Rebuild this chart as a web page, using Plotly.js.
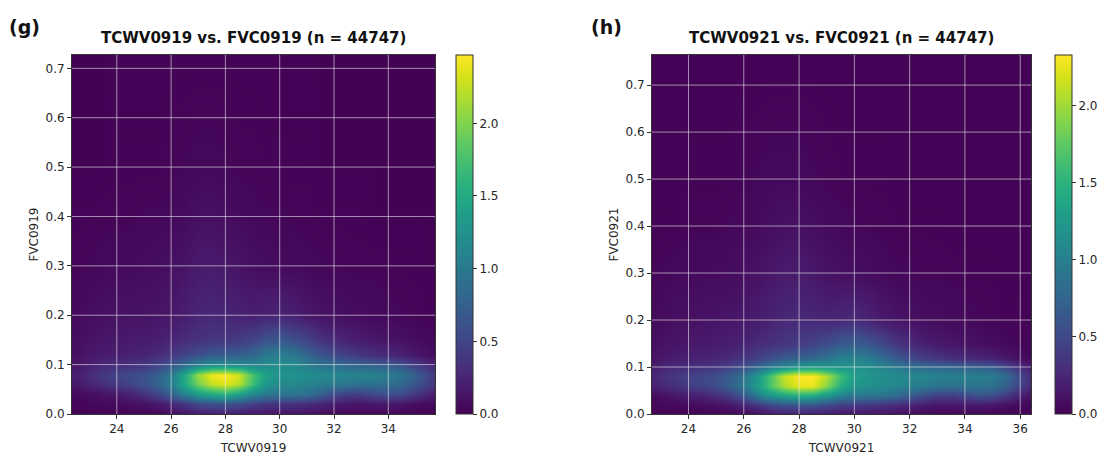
<!DOCTYPE html>
<html>
<head>
<meta charset="utf-8">
<script src="https://cdn.plot.ly/plotly-3.0.1.min.js"></script>
<style>html,body{margin:0;padding:0;background:#fff;}#chart{width:1102px;height:455px;}</style>
</head>
<body>
<div id="chart"></div>
<script>
// Grid of cell centres (TCWV along x, FVC along y)
const xCenters = [22.5,23,23.5,24,24.5,25,25.5,26,26.5,27,27.5,28,28.5,29,29.5,30,30.5,31,31.5,32,32.5,33,33.5,34,34.5,35,35.5,36,36.5];
const yCenters = [0,0.02,0.04,0.06,0.08,0.10,0.12,0.15,0.20,0.30,0.40,0.50,0.75];

// Panel (g): TCWV0919 vs FVC0919 density
const densityG = [
 [0.01,0.01,0.02,0.02,0.03,0.04,0.05,0.08,0.12,0.15,0.18,0.18,0.16,0.14,0.12,0.12,0.12,0.1,0.08,0.06,0.05,0.05,0.05,0.05,0.04,0.03,0.02,0.01,0.01],
 [0.03,0.04,0.05,0.06,0.08,0.1,0.15,0.25,0.38,0.52,0.6,0.62,0.55,0.45,0.38,0.35,0.35,0.3,0.25,0.18,0.14,0.13,0.15,0.15,0.12,0.08,0.05,0.03,0.02],
 [0.05,0.08,0.12,0.16,0.22,0.35,0.5,0.75,1.1,1.35,1.5,1.6,1.4,1.15,1.0,0.95,0.95,0.9,0.75,0.55,0.45,0.45,0.55,0.6,0.55,0.4,0.25,0.12,0.06],
 [0.15,0.25,0.32,0.42,0.5,0.6,0.78,1.05,1.5,1.95,2.25,2.35,2.2,1.7,1.28,1.15,1.15,1.1,1.05,1.0,0.95,0.9,0.9,0.9,0.8,0.65,0.45,0.25,0.12],
 [0.2,0.3,0.4,0.5,0.55,0.62,0.75,1.0,1.5,2.1,2.42,2.47,2.3,1.75,1.38,1.25,1.25,1.2,1.15,1.15,1.1,1.1,1.1,1.05,0.95,0.75,0.5,0.28,0.14],
 [0.15,0.22,0.28,0.32,0.35,0.4,0.5,0.65,0.9,1.1,1.22,1.22,1.18,1.12,1.18,1.22,1.17,1.05,0.95,0.88,0.82,0.78,0.75,0.7,0.6,0.45,0.3,0.18,0.08],
 [0.1,0.15,0.18,0.2,0.22,0.25,0.3,0.38,0.5,0.6,0.7,0.72,0.75,0.82,1.0,1.05,0.98,0.82,0.65,0.55,0.45,0.38,0.32,0.28,0.22,0.16,0.1,0.06,0.03],
 [0.08,0.12,0.14,0.16,0.17,0.18,0.2,0.25,0.3,0.35,0.38,0.38,0.42,0.5,0.62,0.68,0.6,0.48,0.35,0.28,0.22,0.18,0.15,0.12,0.1,0.07,0.05,0.03,0.02],
 [0.06,0.08,0.1,0.11,0.12,0.12,0.13,0.15,0.2,0.25,0.27,0.25,0.22,0.2,0.22,0.24,0.2,0.15,0.12,0.1,0.08,0.07,0.06,0.05,0.04,0.03,0.02,0.02,0.01],
 [0.03,0.04,0.05,0.06,0.06,0.07,0.08,0.1,0.13,0.17,0.18,0.15,0.12,0.09,0.08,0.07,0.06,0.05,0.04,0.04,0.03,0.03,0.03,0.02,0.02,0.02,0.01,0.01,0.01],
 [0.02,0.02,0.03,0.03,0.03,0.04,0.04,0.05,0.07,0.1,0.1,0.08,0.06,0.05,0.04,0.04,0.03,0.03,0.02,0.02,0.02,0.02,0.01,0.01,0.01,0.01,0.01,0.01,0.01],
 [0.01,0.01,0.01,0.02,0.02,0.02,0.02,0.03,0.04,0.05,0.05,0.04,0.03,0.03,0.02,0.02,0.02,0.02,0.01,0.01,0.01,0.01,0.01,0.01,0.01,0.01,0.01,0.01,0.01],
 [0.01,0.01,0.01,0.01,0.01,0.01,0.01,0.01,0.01,0.01,0.01,0.01,0.01,0.01,0.01,0.01,0.01,0.01,0.01,0.01,0.01,0.01,0.01,0.01,0.01,0.01,0.01,0.01,0.01]
];

// Panel (h): TCWV0921 vs FVC0921 density
const densityH = [
 [0.01,0.01,0.02,0.02,0.03,0.04,0.05,0.07,0.1,0.14,0.17,0.18,0.17,0.15,0.13,0.12,0.12,0.11,0.1,0.08,0.06,0.05,0.05,0.05,0.05,0.04,0.03,0.02,0.01],
 [0.03,0.04,0.05,0.06,0.07,0.09,0.13,0.22,0.35,0.5,0.58,0.62,0.6,0.5,0.42,0.38,0.36,0.32,0.28,0.22,0.16,0.13,0.13,0.15,0.15,0.12,0.08,0.05,0.03],
 [0.06,0.1,0.14,0.18,0.22,0.3,0.42,0.65,1.0,1.25,1.4,1.5,1.45,1.25,1.05,0.95,0.92,0.9,0.82,0.7,0.55,0.45,0.42,0.5,0.6,0.55,0.4,0.2,0.08],
 [0.15,0.25,0.32,0.4,0.46,0.55,0.7,0.95,1.3,1.7,2.05,2.25,2.25,1.9,1.45,1.2,1.15,1.1,1.05,1.0,0.95,0.88,0.85,0.88,0.9,0.85,0.7,0.45,0.2],
 [0.2,0.3,0.38,0.45,0.5,0.55,0.68,0.9,1.25,1.7,2.15,2.33,2.33,2.05,1.6,1.3,1.2,1.15,1.1,1.08,1.05,1.02,1.0,1.0,1.0,0.95,0.8,0.5,0.22],
 [0.15,0.22,0.28,0.3,0.33,0.38,0.45,0.58,0.78,0.98,1.15,1.25,1.3,1.25,1.2,1.2,1.15,1.05,0.95,0.88,0.82,0.78,0.75,0.72,0.7,0.65,0.5,0.3,0.12],
 [0.1,0.14,0.17,0.2,0.22,0.24,0.28,0.35,0.45,0.55,0.65,0.72,0.78,0.88,1.0,1.02,0.95,0.82,0.65,0.52,0.42,0.35,0.3,0.27,0.24,0.2,0.14,0.08,0.04],
 [0.08,0.1,0.13,0.15,0.16,0.17,0.19,0.23,0.28,0.32,0.36,0.4,0.46,0.55,0.65,0.7,0.62,0.5,0.36,0.27,0.2,0.16,0.13,0.11,0.09,0.07,0.05,0.03,0.02],
 [0.05,0.07,0.09,0.1,0.11,0.12,0.13,0.15,0.18,0.22,0.26,0.27,0.25,0.23,0.25,0.28,0.22,0.16,0.12,0.1,0.08,0.07,0.06,0.05,0.04,0.03,0.02,0.02,0.01],
 [0.03,0.04,0.05,0.05,0.06,0.06,0.07,0.09,0.11,0.14,0.17,0.17,0.14,0.11,0.09,0.08,0.07,0.05,0.04,0.04,0.03,0.03,0.03,0.02,0.02,0.02,0.01,0.01,0.01],
 [0.02,0.02,0.02,0.03,0.03,0.03,0.04,0.05,0.06,0.08,0.1,0.1,0.08,0.06,0.05,0.04,0.03,0.03,0.02,0.02,0.02,0.02,0.01,0.01,0.01,0.01,0.01,0.01,0.01],
 [0.01,0.01,0.01,0.02,0.02,0.02,0.02,0.03,0.04,0.05,0.05,0.05,0.04,0.03,0.02,0.02,0.02,0.02,0.01,0.01,0.01,0.01,0.01,0.01,0.01,0.01,0.01,0.01,0.01],
 [0.01,0.01,0.01,0.01,0.01,0.01,0.01,0.01,0.01,0.01,0.01,0.01,0.01,0.01,0.01,0.01,0.01,0.01,0.01,0.01,0.01,0.01,0.01,0.01,0.01,0.01,0.01,0.01,0.01]
];

const titleG = 'TCWV0919 vs. FVC0919 (n = 44747)';
const titleH = 'TCWV0921 vs. FVC0921 (n = 44747)';
const xTicksG = [24,26,28,30,32,34];
const xTicksH = [24,26,28,30,32,34,36];
const yTicks = [0,0.1,0.2,0.3,0.4,0.5,0.6,0.7];
const cbTicks = [0,0.5,1.0,1.5,2.0];

const W = 1102, H = 455;
const FONT = 'DejaVu Sans, sans-serif';
const TXT = '#262626';

const pG = {x0:72, x1:435, y0:55, y1:414, cbx:456};
const pH = {x0:652, x1:1031, y0:55, y1:414, cbx:1055};

function cb(p){
  return {x:p.cbx/W, xanchor:'left', xref:'paper', y:(H-p.y1)/H, yanchor:'bottom',
    len:(p.y1-p.y0)/H, lenmode:'fraction', thickness:17, thicknessmode:'pixels',
    xpad:0, ypad:0, outlinewidth:1, outlinecolor:'#333',
    tickvals:cbTicks, tickformat:'.1f', ticks:'outside', ticklen:4, tickcolor:'#333',
    tickfont:{family:FONT,size:12,color:TXT}};
}

const traces = [
  {type:'heatmap', x:xCenters, y:yCenters, z:densityG, xaxis:'x', yaxis:'y',
   colorscale:'Viridis', zmin:0, zmax:2.47, zsmooth:'best', colorbar:cb(pG), hoverinfo:'skip'},
  {type:'heatmap', x:xCenters, y:yCenters, z:densityH, xaxis:'x2', yaxis:'y2',
   colorscale:'Viridis', zmin:0, zmax:2.33, zsmooth:'best', colorbar:cb(pH), hoverinfo:'skip'}
];

function xa(p, range, ticks, label){
  return {domain:[p.x0/W, p.x1/W], range:range, tickvals:ticks, ticks:'outside', ticklen:4,
    tickcolor:'#333', showgrid:false, zeroline:false, showline:true, mirror:true,
    linecolor:'#333', linewidth:1, tickfont:{family:FONT,size:12,color:TXT},
    title:{text:label, font:{family:FONT,size:12,color:TXT}, standoff:9}, automargin:false};
}
function ya(p, range, label){
  return {domain:[(H-p.y1)/H, (H-p.y0)/H], range:range, tickvals:yTicks, tickformat:'.1f',
    ticks:'outside', ticklen:4, tickcolor:'#333', showgrid:false, zeroline:false,
    showline:true, mirror:true, linecolor:'#333', linewidth:1,
    tickfont:{family:FONT,size:12,color:TXT},
    title:{text:label, font:{family:FONT,size:12,color:TXT}, standoff:4}, automargin:false};
}

const shapes = [];
function grid(xref, yref, xt, yt){
  const gc = 'rgba(235,235,235,0.6)';
  xt.forEach(v => shapes.push({type:'line', xref:xref, yref:yref+' domain', x0:v, x1:v, y0:0, y1:1,
    line:{color:gc, width:1}, layer:'above'}));
  yt.forEach(v => shapes.push({type:'line', xref:xref+' domain', yref:yref, x0:0, x1:1, y0:v, y1:v,
    line:{color:gc, width:1}, layer:'above'}));
}
grid('x','y', xTicksG, yTicks.slice(1));
grid('x2','y2', xTicksH, yTicks.slice(1));

const layout = {
  width:W, height:H, margin:{l:0,r:0,t:0,b:0}, paper_bgcolor:'#fff', plot_bgcolor:'#440154',
  showlegend:false, font:{family:FONT, color:TXT},
  xaxis: xa(pG, [22.35, 35.72], xTicksG, 'TCWV0919'),
  yaxis: ya(pG, [0, 0.727], 'FVC0919'),
  xaxis2: xa(pH, [22.68, 36.39], xTicksH, 'TCWV0921'),
  yaxis2: Object.assign(ya(pH, [0, 0.764], 'FVC0921'), {anchor:'x2'}),
  shapes: shapes,
  annotations: [
    {text:'<b>'+titleG+'</b>', xref:'paper', yref:'paper', x:(pG.x0+pG.x1)/2/W, y:(H-38)/H,
     xanchor:'center', yanchor:'middle', showarrow:false, font:{family:FONT,size:15,color:'#111'}},
    {text:'<b>'+titleH+'</b>', xref:'paper', yref:'paper', x:(pH.x0+pH.x1)/2/W, y:(H-38)/H,
     xanchor:'center', yanchor:'middle', showarrow:false, font:{family:FONT,size:15,color:'#111'}},
    {text:'<b>(g)</b>', xref:'paper', yref:'paper', x:7/W, y:(H-27)/H, xanchor:'left', yanchor:'middle',
     showarrow:false, font:{family:FONT,size:19,color:'#111'}},
    {text:'<b>(h)</b>', xref:'paper', yref:'paper', x:589/W, y:(H-27)/H, xanchor:'left', yanchor:'middle',
     showarrow:false, font:{family:FONT,size:19,color:'#111'}}
  ]
};
layout.xaxis2.anchor = 'y2';

Plotly.newPlot('chart', traces, layout, {displayModeBar:false, staticPlot:true});
</script>
</body>
</html>
